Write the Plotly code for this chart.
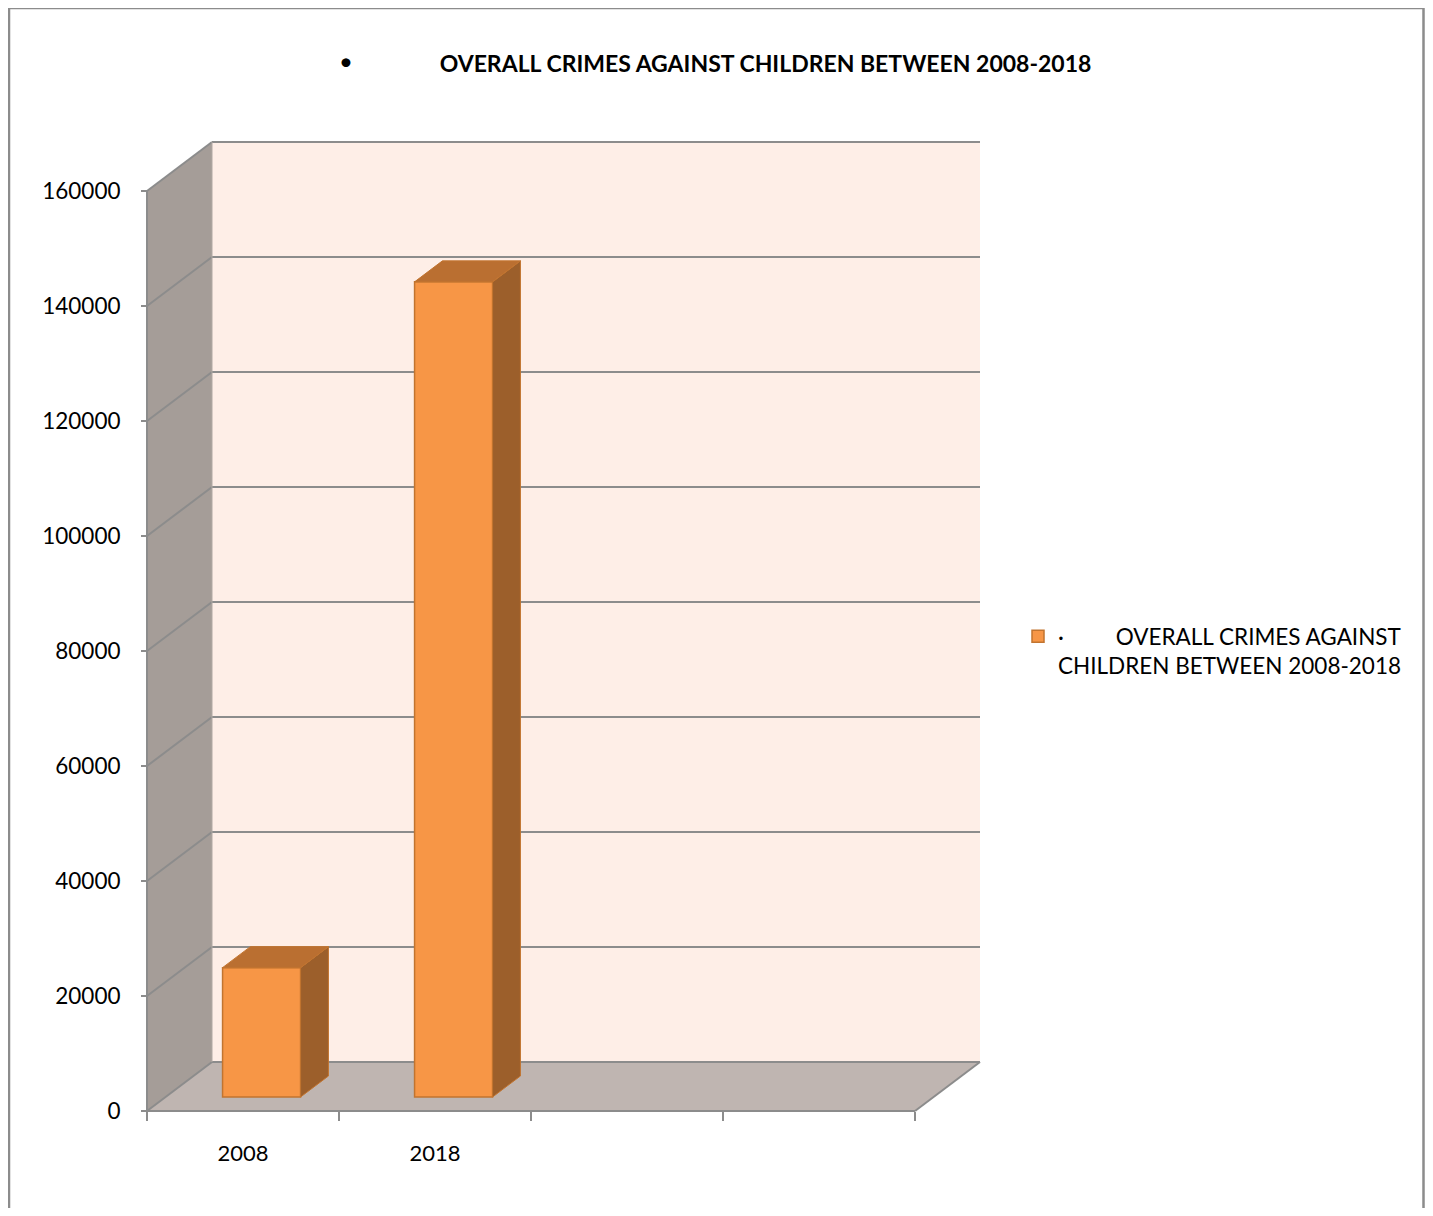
import plotly.graph_objects as go

# ---------------- data ----------------
categories = ["2008", "2018"]
values = [22500, 141764]
series_name = "·\u00a0\u00a0\u00a0\u00a0\u00a0\u00a0\u00a0\u00a0\u00a0OVERALL CRIMES AGAINST<br>CHILDREN BETWEEN 2008-2018"
title_text = "OVERALL CRIMES AGAINST CHILDREN BETWEEN 2008-2018"
y_ticks = [0, 20000, 40000, 60000, 80000, 100000, 120000, 140000, 160000]
n_slots = 4  # category slots on the axis (2 used)

# ---------------- geometry (3-D look) ----------------
PX_SLOT = 192.0
PX_UNIT = 920.0 / 160000.0
YMAX = 160000
DX = 65.0 / PX_SLOT          # depth offset in x (slots)
DY = 49.0 / PX_UNIT          # depth offset in y (value units)
PADX = 6.0 / PX_SLOT
PADY = 6.0 / PX_UNIT
F0, F1 = 2.0 / 7.0, 5.0 / 7.0   # bar depth fractions
BW = 78.0 / PX_SLOT             # bar width

x_range = [-PADX, n_slots + DX + PADX]
y_range = [-PADY, YMAX + DY + PADY]
plot_w = (x_range[1] - x_range[0]) * PX_SLOT
plot_h = (y_range[1] - y_range[0]) * PX_UNIT

# page layout (body margin 8px)
LEFT_PAGE = 147 - 6
TOP_PAGE = 142 - 6
FIG_W, FIG_H = 1417, 1200
ml = LEFT_PAGE - 8
mt = TOP_PAGE - 8
mr = FIG_W - ml - plot_w
mb = FIG_H - mt - plot_h

GRID = "#8C8C8C"
BACK = "#FEEEE7"
LEFTW = "#A59D98"
FLOOR = "#BFB5B1"
FRONT = "#F79646"
TOPC = "#BA6F31"
SIDE = "#9C5F2B"
EDGE = "#C2742F"
FONT = "Lato"

def px2paper_x(px):
    return (px - LEFT_PAGE) / plot_w

def px2paper_y(py):
    return (TOP_PAGE + plot_h - py) / plot_h

def poly(pts):
    return "M " + " L ".join(f"{x},{y}" for x, y in pts) + " Z"

shapes = []
# back wall
shapes.append(dict(type="path", xref="x", yref="y", layer="below",
                   path=poly([(DX, DY), (n_slots + DX, DY), (n_slots + DX, YMAX + DY), (DX, YMAX + DY)]),
                   fillcolor=BACK, line=dict(width=0)))
# left wall
shapes.append(dict(type="path", xref="x", yref="y", layer="below",
                   path=poly([(0, 0), (DX, DY), (DX, YMAX + DY), (0, YMAX)]),
                   fillcolor=LEFTW, line=dict(width=0)))
# floor
shapes.append(dict(type="path", xref="x", yref="y", layer="below",
                   path=poly([(0, 0), (n_slots, 0), (n_slots + DX, DY), (DX, DY)]),
                   fillcolor=FLOOR, line=dict(width=0)))
# grid lines on back wall and left wall
for v in y_ticks:
    shapes.append(dict(type="line", xref="x", yref="y", layer="below",
                       x0=DX, y0=v + DY, x1=n_slots + DX, y1=v + DY,
                       line=dict(color=GRID, width=2)))
    shapes.append(dict(type="line", xref="x", yref="y", layer="below",
                       x0=0, y0=v, x1=DX, y1=v + DY,
                       line=dict(color=GRID, width=2)))
# axis lines / floor edges
shapes.append(dict(type="line", xref="x", yref="y", layer="below",
                   x0=0, y0=0, x1=0, y1=YMAX, line=dict(color=GRID, width=2)))
shapes.append(dict(type="line", xref="x", yref="y", layer="below",
                   x0=0, y0=0, x1=n_slots, y1=0, line=dict(color=GRID, width=2)))
shapes.append(dict(type="line", xref="x", yref="y", layer="below",
                   x0=n_slots, y0=0, x1=n_slots + DX, y1=DY, line=dict(color=GRID, width=2)))
shapes.append(dict(type="line", xref="x", yref="y", layer="below",
                   x0=DX, y0=YMAX + DY, x1=DX, y1=DY, line=dict(color="#B0A8A4", width=1)))
# outer chart border
shapes.append(dict(type="path", xref="paper", yref="paper", layer="above",
                   path=(f"M {px2paper_x(9)},{px2paper_y(1300)} L {px2paper_x(9)},{px2paper_y(8)} "
                         f"L {px2paper_x(1423.5)},{px2paper_y(8)} L {px2paper_x(1423.5)},{px2paper_y(1300)}"),
                   line=dict(color=GRID, width=2.5)))

fig = go.Figure()

centers = [i + 0.5 for i in range(len(categories))]
# front faces
fig.add_trace(go.Bar(
    x=[c + F0 * DX for c in centers], y=values, base=[F0 * DY] * len(values),
    width=BW, name=series_name, marker=dict(color=FRONT, line=dict(color=EDGE, width=1.5)),
    hoverinfo="skip", showlegend=True))

ddx = (F1 - F0) * DX
for c, v in zip(centers, values):
    xl = c + F0 * DX - BW / 2
    xr = c + F0 * DX + BW / 2
    yb = F0 * DY
    yt = v + F0 * DY
    # side face
    fig.add_trace(go.Scatter(
        x=[xr, xr + ddx, xr + ddx, xr, xr], y=[yb, yb + (F1 - F0) * DY, yt + (F1 - F0) * DY, yt, yb],
        fill="toself", fillcolor=SIDE, mode="lines", line=dict(color=EDGE, width=1),
        showlegend=False, hoverinfo="skip"))
    # top face
    fig.add_trace(go.Scatter(
        x=[xl, xr, xr + ddx, xl + ddx, xl], y=[yt, yt, yt + (F1 - F0) * DY, yt + (F1 - F0) * DY, yt],
        fill="toself", fillcolor=TOPC, mode="lines", line=dict(color=EDGE, width=1),
        showlegend=False, hoverinfo="skip"))

fig.update_layout(
    width=FIG_W, height=FIG_H,
    margin=dict(l=ml, r=mr, t=mt, b=mb, autoexpand=False),
    paper_bgcolor="white", plot_bgcolor="rgba(0,0,0,0)",
    font=dict(family=FONT, size=22, color="black"),
    title=dict(text="<b>" + title_text + "</b>", xref="container", yref="container",
               x=(765.5 - 8) / FIG_W, xanchor="center",
               y=1 - (64 - 8) / FIG_H, yanchor="middle",
               font=dict(family=FONT, size=23, color="black")),
    xaxis=dict(range=x_range, anchor="free", position=PADY * PX_UNIT / plot_h,
               tickvals=centers, ticktext=categories, ticks="",
               showgrid=False, zeroline=False, showline=False,
               ticklabelstandoff=27,
               minor=dict(tickmode="array", tickvals=list(range(n_slots + 1)), ticks="outside",
                          ticklen=9, tickwidth=2, tickcolor=GRID, showgrid=False),
               tickfont=dict(family=FONT, size=22, color="black")),
    yaxis=dict(range=y_range, anchor="free", position=PADX * PX_SLOT / plot_w,
               tickvals=y_ticks, tickformat="d", ticks="outside", ticklen=6, tickwidth=2, tickcolor=GRID,
               showgrid=False, zeroline=False, showline=False, ticklabelstandoff=16,
               tickfont=dict(family=FONT, size=22.5, color="black")),
    legend=dict(x=px2paper_x(1018), y=px2paper_y(615), xanchor="left", yanchor="top",
                valign="top", font=dict(family=FONT, size=22.5, color="black"),
                bgcolor="rgba(0,0,0,0)", tracegroupgap=0, itemwidth=30),
    shapes=shapes,
    annotations=[dict(text="•", xref="paper", yref="paper", x=px2paper_x(346), y=px2paper_y(60),
                      xanchor="center", yanchor="middle", showarrow=False,
                      font=dict(family=FONT, size=24, color="black"))],
    barmode="overlay",
)

fig.write_html("out.html")
